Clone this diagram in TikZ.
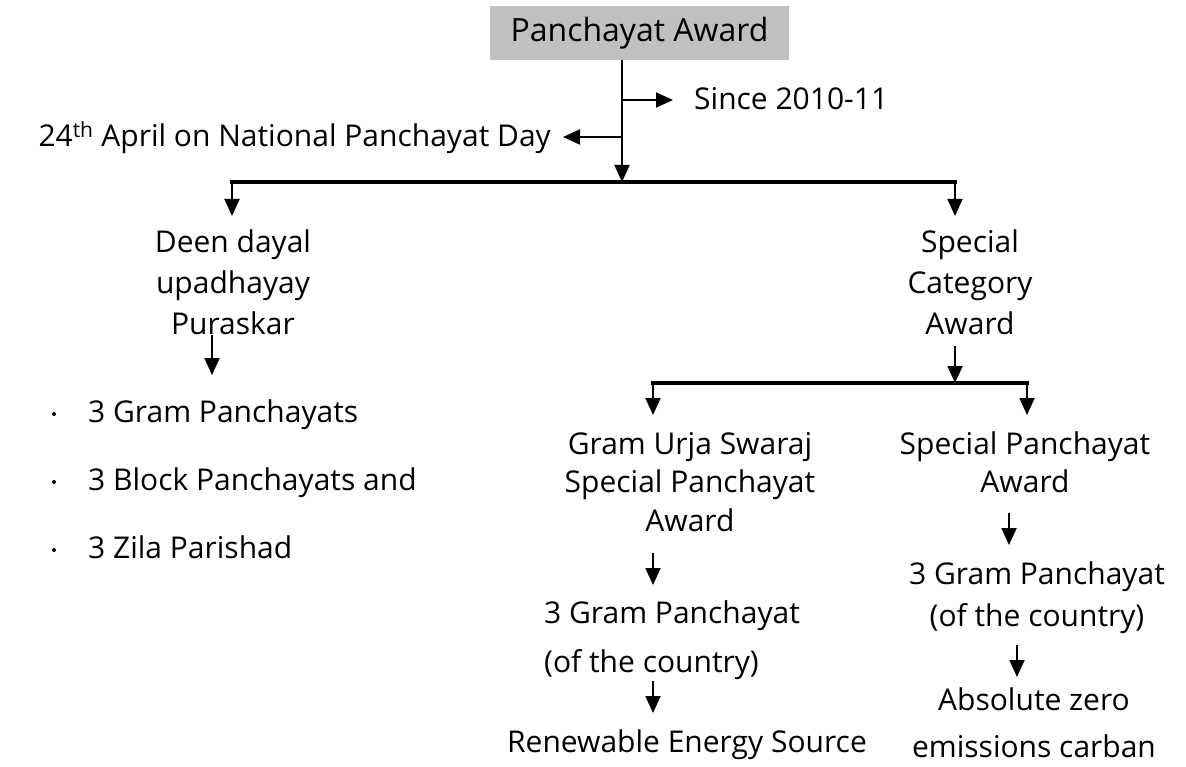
\documentclass[tikz,border=0pt]{standalone}
\usepackage{fontspec}
\setmainfont{Open Sans}
\usetikzlibrary{arrows.meta}
\definecolor{boxgray}{HTML}{C0C0C0}
\begin{document}
\begin{tikzpicture}[x=1pt,y=-1pt,
  txt/.style={font=\fontsize{30}{41}\selectfont, inner sep=0pt, align=center},
  titlebox/.style={fill=boxgray, minimum width=299pt, minimum height=54pt, inner sep=0pt, font=\fontsize{32}{43}\selectfont},
  arr/.style={line width=1.9pt, -{Triangle[length=17pt,width=15pt]}},
  bar/.style={line width=3.4pt},
  dot/.style={circle, fill=black, inner sep=0pt, minimum size=4pt}
]
\useasboundingbox (0,0) rectangle (1186,767);

% title
\node[titlebox] (pa) at (639.5,33) {Panchayat Award};

% trunk
\coordinate (t1) at (622,100);
\coordinate (t2) at (622,137);
\coordinate (j1) at (622,182);
\draw[arr] (pa.south -| j1) -- (j1);

\node[txt, anchor=base west] (since) at (694,110) {Since 2010-11};
\node[txt, anchor=base east] (day) at (551,147) {24\textsuperscript{th} April on National Panchayat Day};
\draw[arr, shorten >=21pt] (t1) -- (t1 -| since.west);
\draw[arr, shorten >=12pt] (t2) -- (t2 -| day.east);

% first split
\coordinate (hl) at (232,182);
\coordinate (hr) at (955,182);
\draw[bar] ([xshift=-1.9pt]hl) -- ([xshift=1.9pt]hr);

\node[txt, anchor=north] (deen) at (233,230) {Deen dayal\\upadhayay\\Puraskar};
\node[txt, anchor=north] (sca) at (970,230) {Special\\Category\\Award};
\draw[arr, shorten >=14pt] (hl) -- (hl |- deen.north);
\draw[arr, shorten >=14pt] (hr) -- (hr |- sca.north);

% left list
\node[txt, anchor=base west] (g1) at (88,422) {3 Gram Panchayats};
\node[txt, anchor=base west] (g2) at (88,490) {3 Block Panchayats and};
\node[txt, anchor=base west] (g3) at (88,558) {3 Zila Parishad};
\node[dot] (d1) at (54,414) {};
\node[dot] (d2) at (54,482) {};
\node[dot] (d3) at (54,550) {};
\draw[arr, shorten >=24pt] ([xshift=-21pt]deen.south) -- ([xshift=-21pt]deen.south |- g1.north);

% second split
\coordinate (j2) at (955,383);
\coordinate (jl) at (653,383);
\coordinate (jr) at (1027,383);
\draw[arr, shorten <=11pt] (hr |- sca.south) -- (j2);
\draw[bar] ([xshift=-1.9pt]jl) -- ([xshift=1.9pt]jr);

\node[txt, anchor=north, font=\fontsize{30}{38.5}\selectfont] (gu) at (690,432) {Gram Urja Swaraj\\Special Panchayat\\Award};
\node[txt, anchor=north, font=\fontsize{30}{37.5}\selectfont] (spa) at (1025,432) {Special Panchayat\\Award};
\draw[arr, shorten >=17pt] (jl) -- (jl |- gu.north);
\draw[arr, shorten >=17pt] (jr) -- (jr |- spa.north);

% left branch
\node[txt, anchor=base west] (gp2a) at (544,623) {3 Gram Panchayat};
\node[txt, anchor=base west] (gp2b) at (544,672) {(of the country)};
\node[txt, anchor=base] (ren) at (687,752) {Renewable Energy Source};
\draw[arr, shorten <=21pt, shorten >=15pt] (jl |- gu.south) -- (jl |- gp2a.north);
\draw[arr, shorten <=2pt, shorten >=16pt] (jl |- gp2b.south) -- (jl |- ren.north);

% right branch
\node[txt, anchor=north, font=\fontsize{30}{42}\selectfont] (gp3) at (1037,562) {3 Gram Panchayat\\(of the country)};
\node[txt, anchor=north, font=\fontsize{30}{47}\selectfont] (abs) at (1034,688) {Absolute zero\\emissions carban};
\draw[arr, shorten <=20pt, shorten >=17pt] ([xshift=-16pt]spa.south) -- ([xshift=-16pt]spa.south |- gp3.north);
\draw[arr, shorten <=11pt, shorten >=11pt] ([xshift=-20pt]gp3.south) -- ([xshift=-20pt]gp3.south |- abs.north);
\end{tikzpicture}
\end{document}
